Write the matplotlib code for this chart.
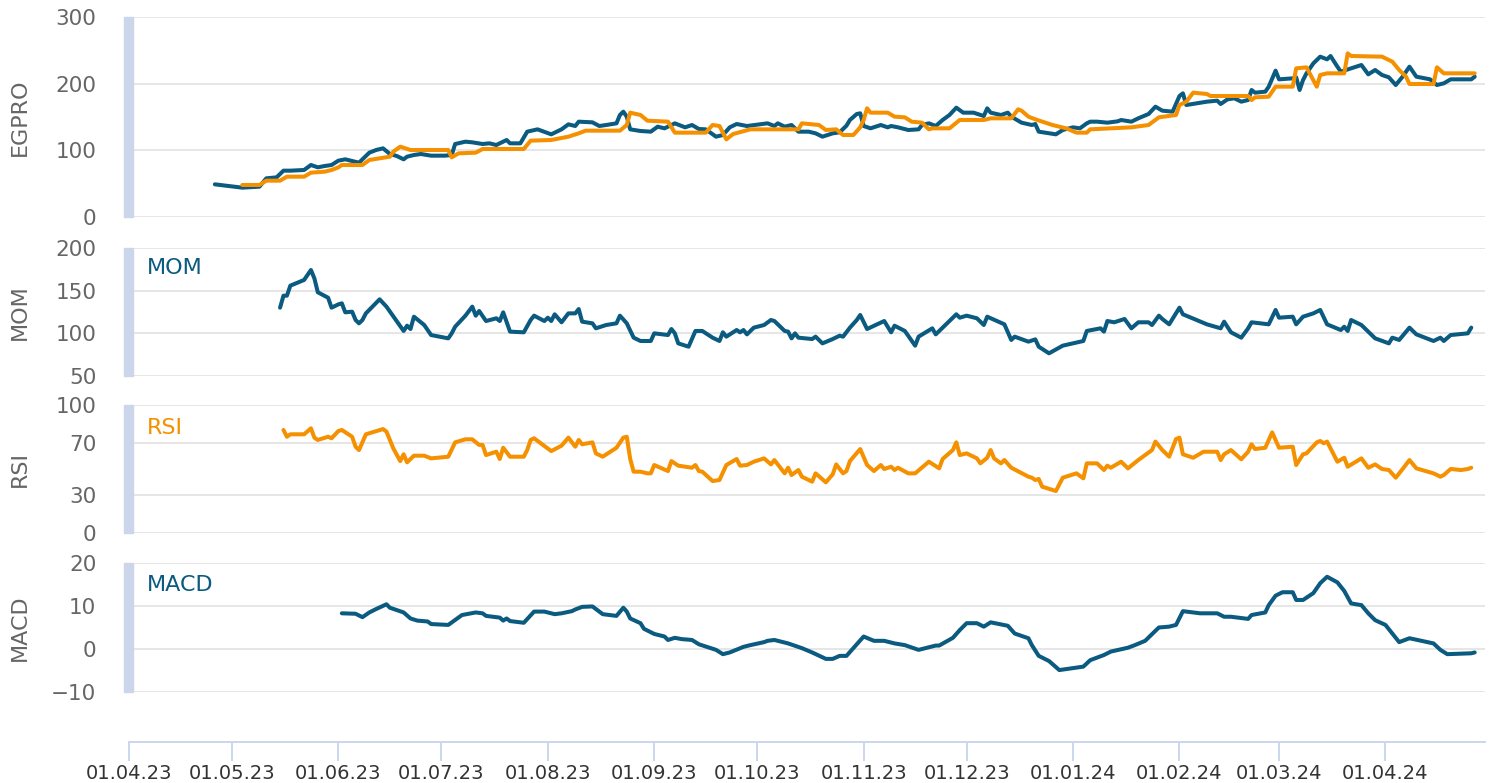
import pandas as pd
import numpy as np
import matplotlib.pyplot as plt
import matplotlib.dates as mdates
from matplotlib.patches import Rectangle

start = pd.Timestamp('2023-04-01')

# all x values are days since 01.04.23
egpro_day = [25, 33, 38, 40, 43, 45, 47, 51, 53, 55, 57, 59, 61, 63, 67, 70, 72, 74, 76, 78,
             80, 81, 83, 85, 88, 92, 94, 95, 98, 100, 103, 105, 107, 110, 111, 114, 116, 119, 123, 126,
             128, 130, 131, 135, 137, 139, 142, 143, 144, 145, 146, 149, 152, 154, 156, 159, 162, 164, 166, 168,
             171, 173, 175, 177, 180, 183, 186, 188, 189, 191, 193, 195, 198, 200, 202, 205, 207, 209, 210, 212,
             213, 214, 216, 219, 221, 222, 224, 227, 230, 231, 233, 235, 237, 239, 241, 243, 246, 249, 250, 251,
             254, 256, 257, 260, 263, 264, 265, 270, 272, 275, 277, 279, 280, 282, 285, 288, 289, 292, 294, 297,
             299, 301, 304, 306, 307, 308, 311, 314, 317, 318, 320, 322, 324, 326, 327, 328, 331, 332, 334, 335,
             339, 340, 341, 342, 343, 345, 347, 349, 350, 352, 353, 356, 359, 361, 363, 365, 367, 369, 371, 373,
             375, 379, 381, 383, 385, 389, 391, 392]
egpro_val = [49, 44, 45.5, 58, 59.5, 69.5, 69.5, 70.5, 78, 74.5, 76.5, 78, 84.5, 86.5, 81.5, 96.5, 100.5, 103, 94.5, 91.5,
             86.5, 90.5, 93, 94.5, 92, 92, 93, 109.5, 113, 112, 109.5, 110.5, 108, 115.5, 110.5, 110.5, 128, 131.5, 124, 131.5,
             139, 136.5, 143, 142, 136.5, 138, 140.5, 153, 158, 150.5, 131.5, 129, 128, 135.5, 133, 140.5, 134.5, 138, 132, 131.5,
             120.5, 123, 134.5, 139.5, 136.5, 138.5, 140.5, 136.5, 140.5, 135.5, 138, 128, 128, 125.5, 120.5, 125.5, 127, 137, 145.5, 154.5,
             155.5, 136.5, 133, 138, 134.5, 136.5, 134.5, 130.5, 131.5, 138, 140.5, 136.5, 145.5, 153, 164, 156.5, 156.5, 151.5, 163, 156.5,
             153, 156.5, 150.5, 141.5, 138, 139.5, 128, 124, 130.5, 134.5, 133, 140.5, 143, 143, 141.5, 143.5, 145.5, 143, 148, 154.5,
             165.5, 159.5, 158, 181.5, 185.5, 168, 170.5, 173, 174.5, 169.5, 176.5, 178, 173, 175.5, 190.5, 186.5, 188, 195.5, 219.5, 206.5,
             208, 209.5, 190.5, 205.5, 215.5, 230.5, 240.5, 236.5, 241.5, 225.5, 218, 223, 228, 214, 220.5, 213, 209.5, 198, 210.5, 225.5,
             210.5, 206.5, 198, 200.5, 206.5, 206.5, 206.5, 210.5]

egpro_avg_day = [33, 38, 40, 44, 46, 51, 53, 57, 59, 61, 62, 68, 70, 73, 76, 77, 79, 82, 93, 94,
                 96, 101, 103, 115, 117, 123, 128, 131, 133, 143, 145, 146, 149, 151, 157, 159, 168, 170, 172, 174,
                 176, 181, 195, 196, 201, 203, 206, 208, 211, 213, 214, 215, 216, 221, 223, 226, 228, 231, 233, 234,
                 239, 242, 249, 251, 257, 259, 260, 262, 264, 269, 273, 276, 279, 280, 292, 297, 300, 305, 306, 308,
                 310, 314, 315, 326, 327, 328, 332, 334, 339, 340, 343, 346, 347, 349, 354, 355, 356, 365, 368, 370,
                 372, 373, 380, 381, 383, 392]
egpro_avg_val = [48, 48, 54.5, 54.5, 60.5, 60.5, 66.5, 68, 70.5, 74.5, 78, 78, 85.5, 88, 90.5, 98, 105.5, 100.5, 100.5, 89.5,
                 95.5, 96.5, 102, 102, 114.5, 115.5, 120.5, 125.5, 129.5, 129.5, 138, 156.5, 153, 144.5, 143, 126.5, 126.5, 138, 136.5, 116.5,
                 124.5, 131.5, 131.5, 140.5, 138, 130.5, 131.5, 123, 123, 134.5, 145.5, 163, 156.5, 156.5, 150.5, 149.5, 143, 141.5, 131.5, 133,
                 133, 145.5, 145.5, 148, 148, 161.5, 159.5, 150.5, 146.5, 138, 133, 126.5, 126.5, 131.5, 134.5, 138, 149.5, 153, 168, 173,
                 186.5, 184.5, 181.5, 181.5, 175.5, 179.5, 180.5, 195.5, 195.5, 223, 224.5, 195.5, 213, 215.5, 215.5, 245.5, 241.5, 240.5, 233, 220.5,
                 210.5, 199.5, 199.5, 224.5, 215.5, 215.5]

mom_day = [44, 45, 46, 47, 51, 53, 54, 55, 58, 59, 61, 62, 63, 65, 66, 67, 68, 69, 73, 75,
           80, 81, 82, 83, 86, 88, 93, 94, 95, 98, 100, 101, 102, 104, 107, 108, 109, 111, 115, 117,
           118, 121, 122, 123, 124, 126, 128, 130, 131, 132, 135, 136, 139, 142, 143, 145, 147, 149, 152, 153,
           157, 158, 159, 160, 163, 165, 167, 170, 172, 173, 174, 177, 178, 179, 180, 182, 185, 187, 188, 191,
           192, 193, 194, 195, 199, 200, 202, 205, 207, 208, 210, 212, 213, 215, 220, 222, 223, 226, 229, 230,
           234, 235, 241, 242, 244, 247, 249, 250, 255, 257, 258, 262, 264, 265, 268, 272, 278, 279, 283, 284,
           285, 287, 290, 292, 294, 297, 298, 300, 301, 303, 306, 307, 311, 314, 318, 319, 321, 324, 326, 327,
           332, 334, 335, 339, 340, 342, 345, 347, 349, 353, 354, 355, 356, 359, 363, 367, 368, 370, 373, 375,
           380, 382, 383, 385, 390, 391]
mom_val = [129.8, 143.9, 143.9, 155.7, 162.4, 174.1, 164.3, 147.9, 141.5, 129.8, 133.7, 134.9, 124.3, 125.1, 115.3, 111.4, 115.3, 123.1, 139.6, 131,
           102.4, 108.6, 104.7, 119.2, 109.4, 97.6, 93.7, 99.6, 107.4, 120.4, 131, 120.4, 125.9, 114.1, 117.3, 114.1, 124.3, 101.6, 100.8, 115.3,
           120.4, 114.1, 118, 114.1, 122, 112.6, 123.1, 123.1, 128.2, 113.3, 111.4, 105.5, 109.4, 111.4, 120.4, 111.4, 94.5, 90.6, 90.6, 99.6,
           97.6, 104.7, 99.6, 87.8, 83.9, 102.4, 102.4, 94.5, 90.6, 100.8, 95.7, 103.5, 100.8, 103.5, 98.4, 106.3, 109.4, 115.3, 114.1, 102.4,
           101.6, 93.7, 99.6, 94.5, 92.9, 95.7, 87.8, 92.9, 96.8, 95.7, 106.3, 115.3, 121.2, 104.7, 114.1, 100.8, 108.6, 102.4, 85.1, 95.7,
           105.5, 98.4, 122, 118, 120.4, 117.3, 109.4, 119.2, 110.2, 91.8, 95.7, 89.8, 92.5, 83.9, 76.1, 85.1, 90.6, 102.4, 105.5, 101.6,
           114.1, 112.6, 116.5, 105.5, 112.6, 112.6, 109.4, 120.4, 116.5, 110.2, 129.8, 122, 115.3, 110.2, 105.5, 113.3, 100.8, 94.5, 105.5, 112.6,
           110.2, 127.1, 118, 119.2, 110.2, 119.2, 123.1, 127.1, 110.2, 103.5, 107.4, 102.4, 115.3, 109.4, 93.7, 87.8, 94.5, 91.8, 106.3, 98.4,
           90.6, 94.5, 90.6, 97.6, 99.6, 106.3]

rsi_day = [45, 46, 47, 51, 53, 54, 55, 58, 59, 61, 62, 65, 66, 67, 69, 74, 75, 77, 79, 80,
           81, 83, 86, 88, 93, 95, 98, 100, 102, 103, 104, 107, 108, 109, 111, 115, 116, 117, 118, 123,
           126, 128, 130, 131, 132, 135, 136, 138, 141, 142, 144, 145, 146, 147, 149, 151, 152, 153, 157, 158,
           160, 164, 165, 166, 167, 170, 172, 174, 177, 178, 180, 182, 185, 187, 188, 191, 192, 193, 195, 196,
           199, 200, 203, 205, 206, 208, 209, 210, 213, 215, 217, 219, 220, 222, 223, 224, 227, 229, 233, 236,
           237, 240, 241, 242, 244, 247, 248, 250, 251, 252, 254, 255, 257, 262, 263, 264, 265, 266, 270, 272,
           276, 278, 279, 282, 284, 285, 286, 289, 291, 294, 298, 299, 301, 303, 304, 305, 306, 307, 310, 313,
           317, 318, 319, 321, 324, 326, 327, 328, 331, 333, 335, 339, 340, 342, 343, 346, 347, 348, 349, 352,
           354, 355, 359, 361, 363, 365, 367, 369, 371, 373, 375, 380, 382, 383, 385, 388, 390, 391]
rsi_val = [80.5, 75.2, 77.1, 77.1, 81.8, 74.5, 72.7, 75.2, 74, 79.7, 80.5, 75.2, 67.4, 64.8, 77.1, 81.2, 79.2, 66.1, 56.2, 61.5,
           55.2, 60.4, 60.4, 58.3, 59.6, 70.8, 73.2, 73.2, 68.8, 68.8, 60.9, 63.5, 57.8, 66.6, 59.6, 59.6, 64.8, 72.7, 74, 64,
           68.2, 74.5, 67.4, 72.7, 69.3, 70.8, 62.2, 59.6, 64.8, 66.6, 74.5, 75.2, 57.8, 47.9, 47.9, 46.6, 46.6, 53.1, 48.4, 56.2,
           52.6, 51, 53.1, 48.4, 47.9, 40.6, 41.4, 53.1, 57.8, 52.6, 53.1, 55.7, 58.3, 53.6, 57, 46.6, 51, 45.3, 49.2, 44,
           40.1, 46.6, 39.6, 45.9, 53.6, 46.6, 48.4, 56.2, 65.6, 53.1, 48.4, 53.1, 50, 51.8, 49.2, 51, 46.6, 46.6, 55.7, 50.5,
           57.8, 64.8, 70.8, 60.9, 62.2, 58.3, 54.4, 58.8, 64.8, 58.3, 54.4, 57, 51, 44, 43.2, 41.4, 42.2, 36.2, 32.8, 43.2,
           46.6, 42.7, 54.4, 54.4, 49.2, 52.6, 51, 55.7, 50.5, 57, 64.8, 71.4, 64.8, 59.6, 66.6, 73.4, 74.5, 61.5, 58.8, 63.5,
           63.5, 57, 61.5, 64.8, 57.6, 63.5, 69.3, 65.6, 66.6, 78.6, 66.6, 67.4, 53.1, 61.5, 62.2, 70.8, 71.9, 70.1, 71.4, 55.7,
           58.8, 51.8, 58.3, 51, 53.6, 50, 49.2, 43.2, 50, 57, 50.5, 46.6, 44, 45.3, 50, 49.2, 50, 51]

macd_day = [62, 66, 68, 70, 72, 75, 76, 80, 82, 84, 87, 88, 93, 97, 101, 103, 104, 108, 109, 110,
            111, 115, 118, 121, 124, 126, 129, 130, 132, 135, 138, 142, 144, 145, 146, 149, 150, 153, 156, 157,
            159, 161, 164, 166, 171, 173, 175, 179, 181, 185, 186, 188, 192, 196, 199, 203, 205, 207, 209, 211,
            212, 214, 217, 220, 223, 226, 230, 232, 235, 236, 240, 242, 244, 247, 249, 251, 256, 258, 262, 263,
            265, 268, 271, 278, 280, 284, 286, 291, 293, 296, 300, 303, 305, 307, 312, 317, 319, 321, 326, 327,
            331, 332, 334, 336, 339, 340, 342, 345, 347, 349, 352, 354, 356, 359, 361, 363, 366, 368, 370, 373,
            380, 382, 384, 391, 392]
macd_val = [8.3, 8.2, 7.4, 8.5, 9.3, 10.4, 9.6, 8.5, 7.1, 6.6, 6.4, 5.8, 5.6, 7.9, 8.5, 8.3, 7.7, 7.3, 6.6, 7.1,
            6.5, 6.1, 8.7, 8.7, 8.1, 8.3, 8.8, 9.2, 9.8, 9.9, 8.1, 7.7, 9.6, 8.7, 7.1, 6, 4.7, 3.5, 2.9, 2.1,
            2.6, 2.3, 2.1, 1.1, -0.2, -1.2, -0.8, 0.5, 0.9, 1.6, 1.9, 2.1, 1.3, 0.2, -0.8, -2.3, -2.3, -1.6, -1.6, 0.2,
            1.1, 2.9, 1.9, 1.9, 1.3, 0.9, -0.2, 0.2, 0.8, 0.8, 2.6, 4.4, 6, 6, 5.2, 6.2, 5.4, 3.6, 2.5, 0.9,
            -1.6, -2.8, -4.9, -4.1, -2.6, -1.4, -0.6, 0.3, 0.9, 1.9, 5, 5.2, 5.6, 8.8, 8.3, 8.3, 7.5, 7.5, 7, 7.9,
            8.5, 10.2, 12.4, 13.2, 13.2, 11.4, 11.4, 13, 15.3, 16.8, 15.5, 13.5, 10.6, 10.2, 8.3, 6.7, 5.6, 3.6, 1.6, 2.5,
            1.3, -0.2, -1.2, -1, -0.8]


def to_dates(days):
    return start + pd.to_timedelta(days, unit='D')


blue = '#0b5a80'
orange = '#f59100'
grid_c = '#e6e6e6'
bar_c = '#ccd6eb'
label_c = '#666666'
lw = 2.9

W, H = 1497, 783
fig = plt.figure(figsize=(W / 100, H / 100), dpi=100)


def panel(top, bottom, ylim, yticks, title):
    ax = fig.add_axes([129 / W, 1 - bottom / H, 1356 / W, (bottom - top) / H])
    ax.set_xlim(start, start + pd.Timedelta(days=395))
    ax.set_ylim(*ylim)
    ax.set_yticks(yticks)
    ax.grid(axis='y', color=grid_c, lw=1.4)
    ax.set_axisbelow(True)
    for s in ax.spines.values():
        s.set_visible(False)
    ax.tick_params(axis='y', left=False, labelsize=15.5, labelcolor=label_c, pad=20)
    ax.tick_params(axis='x', bottom=False, labelbottom=False)
    ax.set_ylabel(title, fontsize=16, color=label_c)
    ax.yaxis.set_label_coords(-0.073, 0.5)
    ax.add_patch(Rectangle((-5 / 1356, 0), 9 / 1356, 1, transform=ax.transAxes,
                           color=bar_c, clip_on=False, zorder=5))
    return ax


ax1 = panel(17, 217, (0, 300), [0, 100, 200, 300], 'EGPRO')
ax1.plot(to_dates(egpro_day), egpro_val, color=blue, lw=lw, solid_joinstyle='round', solid_capstyle='round')
ax1.plot(to_dates(egpro_avg_day), egpro_avg_val, color=orange, lw=lw, solid_joinstyle='round', solid_capstyle='round')

ax2 = panel(248, 375.5, (50, 200), [50, 100, 150, 200], 'MOM')
ax2.plot(to_dates(mom_day), mom_val, color=blue, lw=lw, solid_joinstyle='round', solid_capstyle='round')
ax2.text(0.0133, 0.84, 'MOM', transform=ax2.transAxes, color=blue, fontsize=16, va='center')

ax3 = panel(405, 533, (0, 100), [0, 30, 70, 100], 'RSI')
ax3.plot(to_dates(rsi_day), rsi_val, color=orange, lw=lw, solid_joinstyle='round', solid_capstyle='round')
ax3.text(0.0133, 0.82, 'RSI', transform=ax3.transAxes, color=orange, fontsize=16, va='center')

ax4 = panel(563, 692, (-10, 20), [-10, 0, 10, 20], 'MACD')
ax4.plot(to_dates(macd_day), macd_val, color=blue, lw=lw, solid_joinstyle='round', solid_capstyle='round')
ax4.text(0.0133, 0.83, 'MACD', transform=ax4.transAxes, color=blue, fontsize=16, va='center')

# date axis sits below the last panel
ax4.spines['bottom'].set_visible(True)
ax4.spines['bottom'].set_position(('outward', 36))
ax4.spines['bottom'].set_color(bar_c)
ax4.spines['bottom'].set_linewidth(1.4)
ax4.xaxis.set_major_locator(mdates.MonthLocator())
ax4.xaxis.set_major_formatter(mdates.DateFormatter('%d.%m.%y'))
ax4.tick_params(axis='x', bottom=True, labelbottom=True, direction='out', length=14,
                width=1.4, color=bar_c, labelsize=14, labelcolor='#333333', pad=2)

fig.savefig('out.png', dpi=100)
